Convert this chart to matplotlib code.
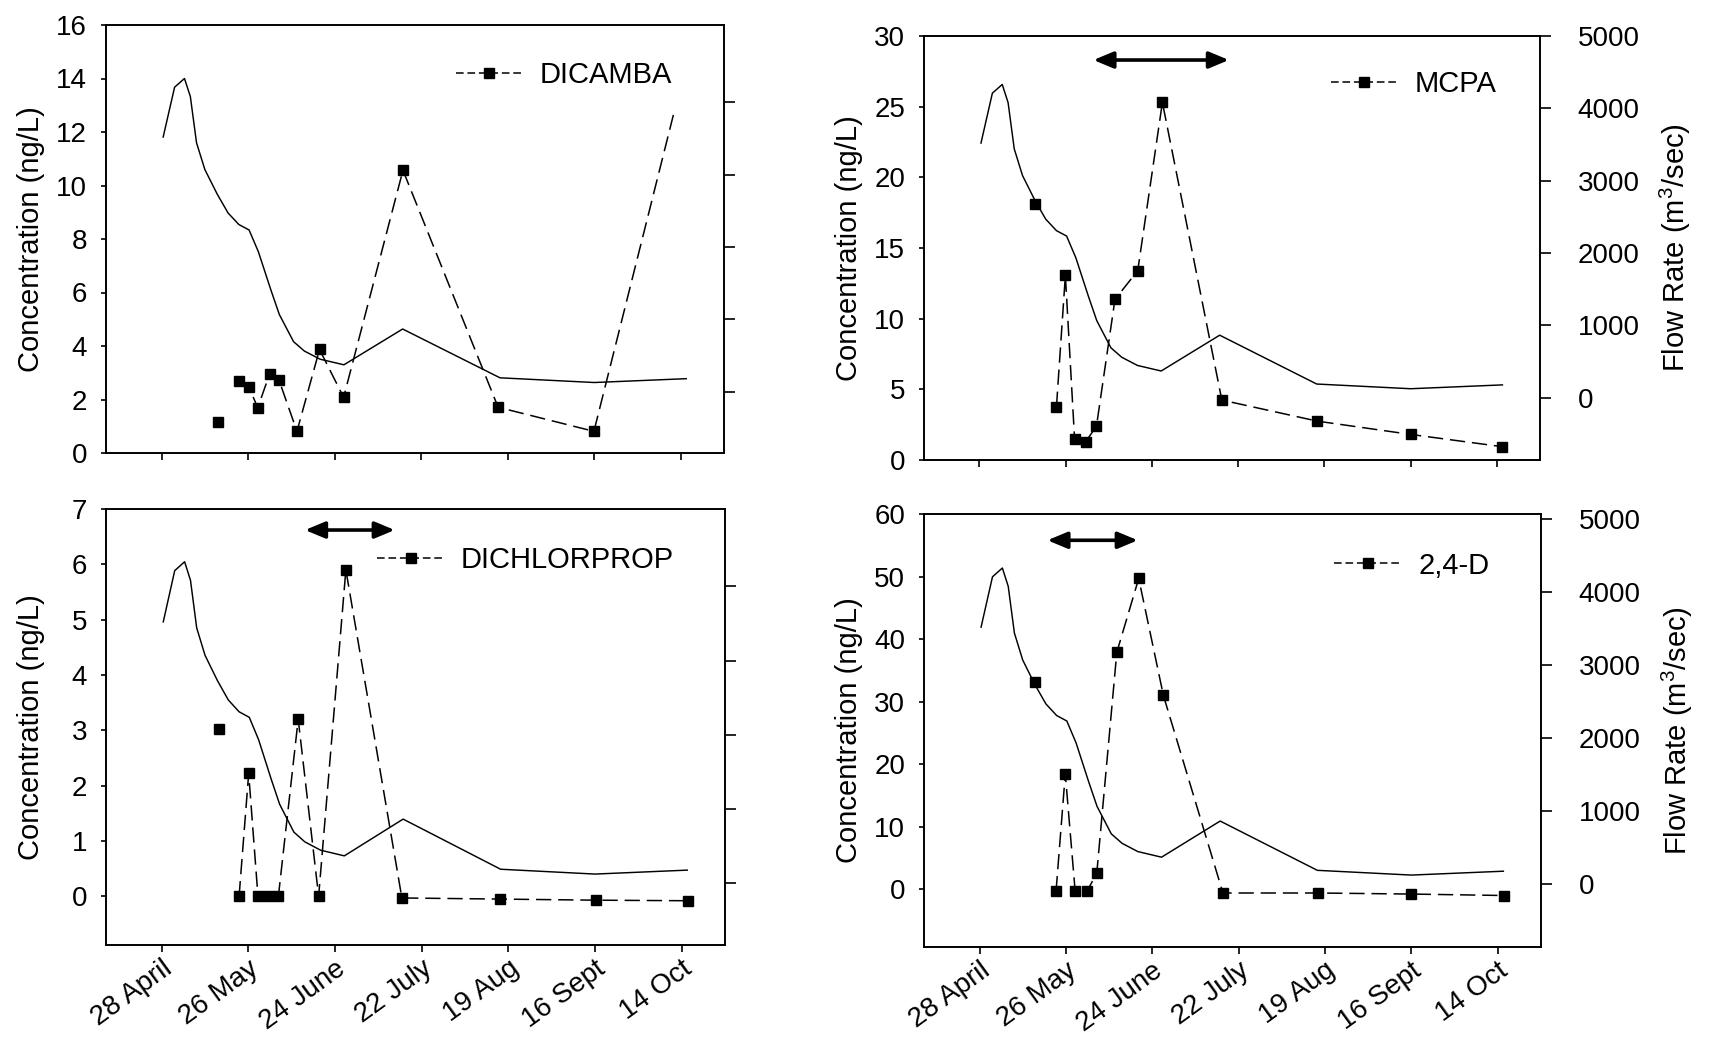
import matplotlib
matplotlib.use("Agg")
import matplotlib.pyplot as plt
from matplotlib.lines import Line2D

plt.rcParams['font.family'] = ['Liberation Sans', 'DejaVu Sans']
plt.rcParams['mathtext.fontset'] = 'custom'
plt.rcParams['mathtext.rm'] = 'Liberation Sans'
plt.rcParams['mathtext.default'] = 'regular'

# ---------------- data ----------------
tick_days = [0, 28, 56, 84, 112, 140, 168]
tick_labels = ['28 April', '26 May', '24 June', '22 July', '19 Aug', '16 Sept', '14 Oct']

flow_days = [0.5, 4.2, 7.4, 9.3, 11.3, 14.0, 18.0, 21.5, 25.0, 28.3, 31.3, 35.4,
             38.1, 42.7, 46.2, 51.3, 59.0, 78.0, 109.5, 140.0, 169.8]
flow_rate = [3520, 4210, 4330, 4080, 3440, 3070, 2730, 2470, 2310, 2235, 1935, 1400,
             1065, 690, 560, 447, 370, 865, 190, 125, 178]

dicamba_days = [18.1, 25.1, 28.3, 31.1, 35.0, 38.0, 43.8, 51.1, 58.9, 78.1, 108.9, 139.9, 166.1]
dicamba_conc = [1.16, 2.68, 2.46, 1.69, 2.97, 2.72, 0.81, 3.87, 2.08, 10.57, 1.71, 0.81, 12.86]

mcpa_days = [18.0, 25.0, 27.9, 30.9, 34.5, 38.0, 44.0, 51.4, 59.4, 78.7, 109.7, 140.0, 169.8]
mcpa_conc = [18.1, 3.76, 13.06, 1.46, 1.29, 2.4, 11.36, 13.4, 25.3, 4.24, 2.75, 1.81, 0.94]

dichlorprop_days = [18.4, 25.0, 28.1, 31.1, 34.2, 37.7, 44.1, 50.7, 59.5, 77.6, 109.4, 140.2, 169.9]
dichlorprop_conc = [3.02, 0.0, 2.22, 0.0, 0.0, 0.0, 3.2, 0.0, 5.9, -0.03, -0.05, -0.07, -0.08]

d24_days = [18.0, 24.8, 27.8, 31.0, 34.8, 38.0, 44.5, 51.6, 59.6, 78.9, 109.7, 140.0, 169.9]
d24_conc = [33.2, -0.3, 18.46, -0.3, -0.3, 2.57, 37.9, 49.7, 31.0, -0.57, -0.57, -0.74, -0.97]

# application period arrows: (start day, end day, concentration level)
mcpa_arrow = [37.0, 81.0, 28.3]
dichlorprop_arrow = [46.3, 75.3, 6.62]
d24_arrow = [22.0, 51.3, 55.8]

flow_ticks = [0, 1000, 2000, 3000, 4000, 5000]

# ---------------- layout ----------------
W, H = 1713, 1040
fig = plt.figure(figsize=(W / 100, H / 100), dpi=100)


def rect(l, r, t, b):
    return [l / W, 1 - b / H, (r - l) / W, (b - t) / H]


panels = [
    dict(name='DICAMBA', days=dicamba_days, conc=dicamba_conc,
         rect=rect(106, 724, 25, 453), ylim=(0, 16), yticks=range(0, 17, 2),
         flim=(-850, 5070), flabels=False, arrow=None, leg=(0.566, 0.883),
         hide_last=True, xlabels=False),
    dict(name='MCPA', days=mcpa_days, conc=mcpa_conc,
         rect=rect(924, 1540, 36, 460), ylim=(0, 30), yticks=range(0, 31, 5),
         flim=(-860, 5000), flabels=True, arrow=mcpa_arrow, leg=(0.660, 0.887),
         hide_last=False, xlabels=False),
    dict(name='DICHLORPROP', days=dichlorprop_days, conc=dichlorprop_conc,
         rect=rect(106, 725, 509, 945), ylim=(-0.88, 7), yticks=range(0, 8),
         flim=(-830, 5040), flabels=False, arrow=dichlorprop_arrow, leg=(0.438, 0.882),
         hide_last=False, xlabels=True),
    dict(name='2,4-D', days=d24_days, conc=d24_conc,
         rect=rect(924, 1541, 514, 947), ylim=(-9.2, 60), yticks=range(0, 61, 10),
         flim=(-860, 5070), flabels=True, arrow=d24_arrow, leg=(0.665, 0.881),
         hide_last=False, xlabels=True),
]

SP_LW = 1.2
TICK_FS = 20
for p in panels:
    ax = fig.add_axes(p['rect'])
    ax2 = ax.twinx()
    ax.set_zorder(ax2.get_zorder() + 1)
    ax.patch.set_visible(False)

    # flow rate (right axis)
    ax2.plot(flow_days, flow_rate, color='black', lw=1.05, solid_joinstyle='round')
    ax2.set_ylim(*p['flim'])
    ax2.set_yticks(flow_ticks if p['flabels'] else flow_ticks[:-1])
    ax2.tick_params(axis='y', direction='out', length=8, width=1.2, pad=19,
                    labelright=p['flabels'])
    for t in ax2.get_yticklabels():
        t.set_fontsize(TICK_FS)
    if p['flabels']:
        ax2.set_ylabel('Flow Rate (m$^3$/sec)', fontsize=21)
        ax2.yaxis.set_label_coords(1.192, 0.5)

    # concentration (left axis)
    d, c = p['days'], p['conc']
    ax.plot(d[:1], c[:1], linestyle='none', marker='s', ms=6.5, color='black')
    n = len(d) - 1
    mk = list(range(n - 1)) if p['hide_last'] else list(range(n))
    ax.plot(d[1:], c[1:], color='black', lw=1.1, linestyle=(0, (10, 4.5)),
            marker='s', ms=6.5, markevery=mk)
    ax.set_ylim(*p['ylim'])
    ax.set_yticks(list(p['yticks']))
    ax.set_yticklabels([str(v) for v in p['yticks']], fontsize=TICK_FS)
    ax.set_xlim(-18, 182)
    ax.set_xticks(tick_days)
    ax.tick_params(axis='y', direction='out', length=3.6, width=1.2, pad=10)
    ax.tick_params(axis='x', direction='out', length=5, width=1.2, pad=2.5)
    if p['xlabels']:
        ax.set_xticklabels(tick_labels, rotation=36, ha='right', va='top',
                           rotation_mode='anchor', fontsize=20)
    else:
        ax.set_xticklabels([])
    ax.set_ylabel('Concentration (ng/L)', fontsize=21)
    ax.yaxis.set_label_coords(-0.099, 0.5)

    for a in (ax, ax2):
        for s in a.spines.values():
            s.set_linewidth(SP_LW)

    if p['arrow'] is not None:
        x0, x1, yv = p['arrow']
        ax.annotate('', xy=(x1, yv), xytext=(x0, yv),
                    arrowprops=dict(arrowstyle='<|-|>,head_length=0.6,head_width=0.25',
                                    color='black', lw=2.6, mutation_scale=20,
                                    shrinkA=0, shrinkB=0))

    h = Line2D([], [], color='black', lw=1.1, linestyle=(0, (5, 2.5)), marker='s', ms=6.5)
    ax.legend([h], [p['name']], loc='center left', bbox_to_anchor=p['leg'],
              frameon=False, fontsize=21, handlelength=2.3, handletextpad=0.58,
              borderpad=0, borderaxespad=0, numpoints=1)

fig.savefig('out.png', dpi=100)
